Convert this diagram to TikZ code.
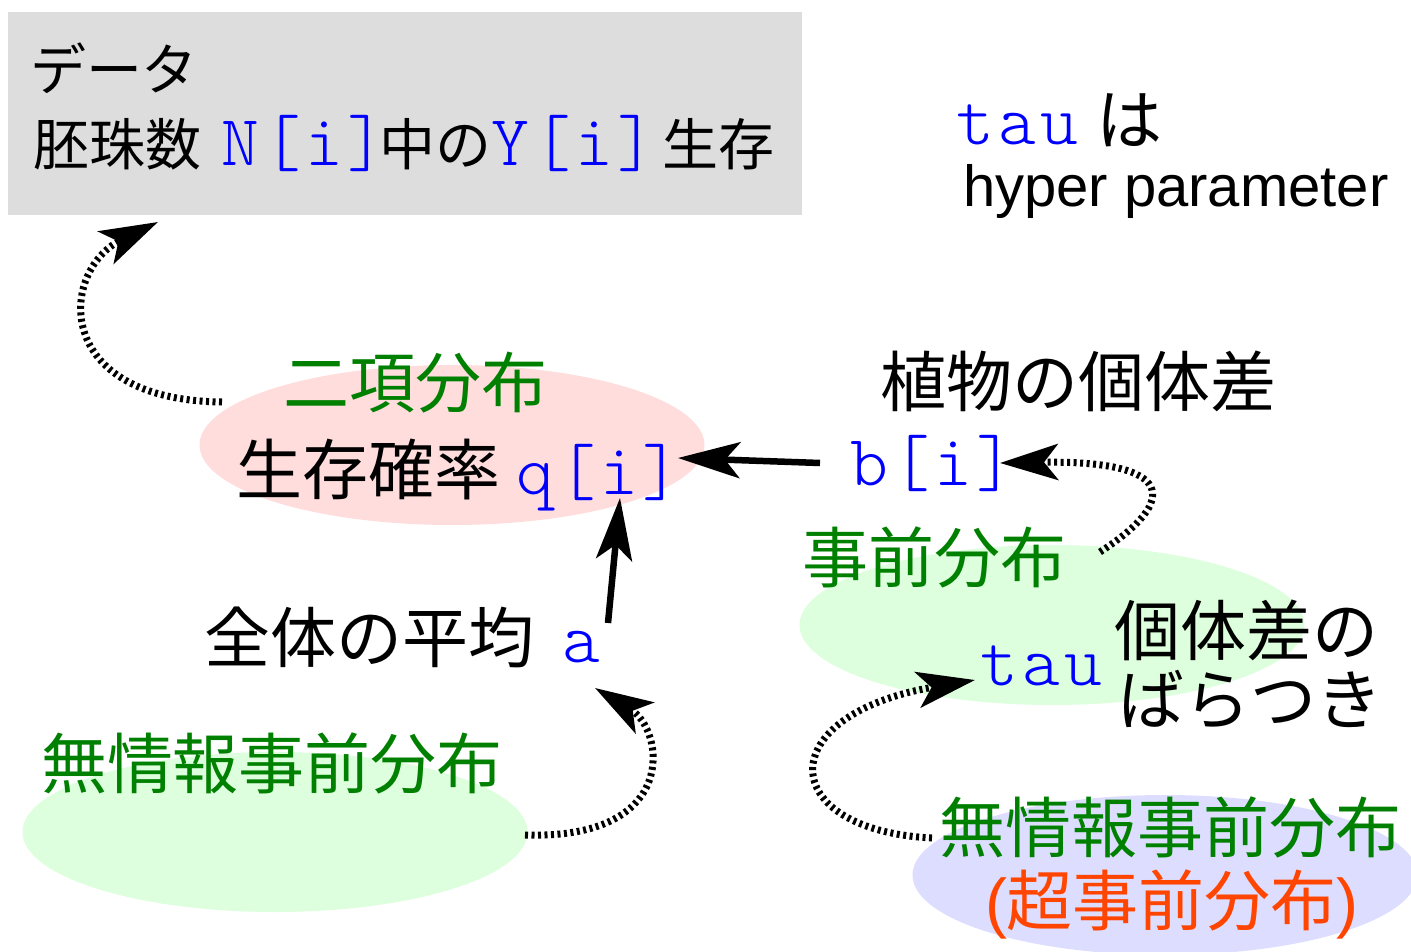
\documentclass[tikz,border=0pt]{standalone}
\usepackage{fontspec}
\setmainfont{Liberation Sans}
\newfontfamily\jp{Noto Sans CJK JP}
\newfontfamily\mono[LetterSpace=6]{lmmonolt10-regular.otf}
\usetikzlibrary{shapes.geometric,arrows.meta}
\definecolor{jgreen}{RGB}{0,128,0}
\definecolor{jblue}{RGB}{0,0,255}
\definecolor{jred}{RGB}{255,69,0}
\definecolor{pinkfill}{RGB}{255,221,221}
\definecolor{greenfill}{RGB}{221,255,221}
\definecolor{lavfill}{RGB}{221,221,255}
\definecolor{grayfill}{RGB}{221,221,221}
\newcommand{\jpL}{\jp\fontsize{66}{72}\selectfont}
\newcommand{\jpS}{\jp\fontsize{56}{62}\selectfont}
\newcommand{\monoL}[1]{{\mono\fontsize{72}{78}\selectfont\color{jblue}#1}}
\begin{document}
\begin{tikzpicture}[x=1pt,y=-1pt,
  blob/.style={ellipse,draw=none,minimum width=505pt,minimum height=160pt,inner sep=0pt},
  txt/.style={anchor=base west,inner sep=0pt,outer sep=0pt},
  dotarrow/.style={line width=7pt,dash pattern=on 3pt off 3.5pt,-{Stealth[length=58pt,width=36pt,inset=14pt]}},
  solidarrow/.style={line width=6.5pt,-{Stealth[length=62pt,width=36pt,inset=15pt]}}]
\useasboundingbox (0,0) rectangle (1411,952);
% background shapes
\node[fill=grayfill,draw=none,minimum width=794pt,minimum height=203pt,anchor=north west,inner sep=0pt] (databox) at (8,12) {};
\node[blob,fill=pinkfill] (binom) at (452,445) {};
\node[blob,fill=greenfill] (flatL) at (275,832) {};
\node[blob,fill=greenfill] (prior) at (1052,625) {};
\node[blob,fill=lavfill] (hyper) at (1165,875) {};
% texts
\node[txt] (dtitle) at (30,91) {\jpS データ};
\node[txt] (drow) at (33,166) {\jpS 胚珠数\hspace{20pt}\monoL{N[i]}\hspace{-6pt}中の\monoL{Y[i]}\hspace{7pt}生存};
\node[txt] (tautop) at (956,145) {\monoL{tau}\hspace{18pt}\jpL は};
\node[txt] (hp) at (963,207) {\fontsize{58}{64}\selectfont hyper parameter};
\node[txt,text=jgreen] (binomlbl) at (283,407) {\jpL 二項分布};
\node[txt] (qlbl) at (236,494) {\jpL 生存確率};
\node[txt] (q) at ([xshift=16pt]qlbl.base east) {\monoL{q[i]}};
\node[txt] (plant) at (880,406) {\jpL 植物の個体差};
\node[txt] (b) at (850,485) {\monoL{b[i]}};
\node[txt,text=jgreen] (priorlbl) at (802,582) {\jpL 事前分布};
\node[txt] (var1) at (1114,655) {\jpL 個体差の};
\node[txt] (var2) at (1118,724) {\jpL ばらつき};
\node[txt] (tau) at (980,685) {\monoL{tau}};
\node[txt] (meanlbl) at (204,662) {\jpL 全体の平均};
\node[txt] (a) at ([xshift=28pt]meanlbl.base east) {\monoL{a}};
\node[txt,text=jgreen] (flatLlbl) at (41,788) {\jpL 無情報事前分布};
\node[txt,text=jgreen] (flatRlbl) at (939,852) {\jpL 無情報事前分布};
\node[txt,text=jred] (superlbl) at (985,925) {\fontsize{66}{72}\selectfont(\jp 超事前分布\rm)};
% connector end points
\coordinate (c1s) at (222,402);
\coordinate (c1e) at (158,222);
\coordinate (c2s) at (525,835);
\coordinate (c2e) at (595,688);
\coordinate (c3s) at (608,623);
\coordinate (c3e) at (620,498);
\coordinate (c4s) at (820,463);
\coordinate (c4e) at (678,458);
\coordinate (c5s) at (1100,552);
\coordinate (c5e) at (1000,463);
\coordinate (c6s) at (932,838);
\coordinate (c6e) at (975,680);
% connectors
\draw[dotarrow] (c1s) .. controls (50,400) and (60,270) .. (c1e);
\draw[dotarrow] (c2s) .. controls (680,840) and (665,730) .. (c2e);
\draw[solidarrow] (c3s) -- (c3e);
\draw[solidarrow] (c4s) -- (c4e);
\draw[dotarrow] (c5s) .. controls (1180,500) and (1175,460) .. (c5e);
\draw[dotarrow] (c6s) .. controls (775,830) and (770,715) .. (c6e);
\end{tikzpicture}
\end{document}
